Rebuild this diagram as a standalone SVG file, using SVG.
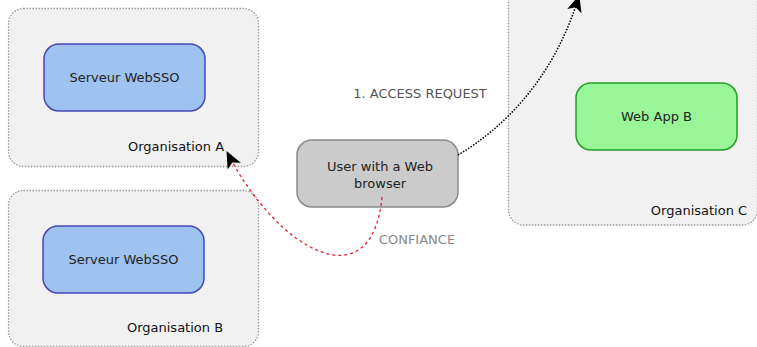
<svg xmlns="http://www.w3.org/2000/svg" width="757" height="347" viewBox="0 0 757 347">
<defs>
<style>
.org{fill:#f1f1f1;stroke:#999;stroke-width:1.3;stroke-dasharray:1.5 1.5}
.sso{fill:#9ec3f0;stroke:#4747b8;stroke-width:1.5}
.app{fill:#98f598;stroke:#22a022;stroke-width:1.5}
.usr{fill:#cbcbcb;stroke:#8a8a8a;stroke-width:1.5}
text{font-family:"DejaVu Sans",sans-serif;font-size:13px;text-anchor:middle}
.ol{fill:#111}
.nl{fill:#222}
</style>
<marker id="ah" viewBox="0 0 16 14" refX="15" refY="7" markerWidth="17" markerHeight="15" markerUnits="userSpaceOnUse" orient="auto">
<path d="M0,0 L16,7 L0,14 L4,7 Z" fill="#000"/>
</marker>
</defs>
<g id="orgA">
<rect class="org" x="8.5" y="8.5" width="250" height="158" rx="15"/>
<text class="ol" x="176" y="151">Organisation A</text>
</g>
<g id="orgB">
<rect class="org" x="8.5" y="190.5" width="250" height="156" rx="15"/>
<text class="ol" x="175" y="332">Organisation B</text>
</g>
<g id="orgC">
<rect class="org" x="508.5" y="-20" width="249" height="245" rx="15"/>
<text class="ol" x="699" y="215">Organisation C</text>
</g>
<g id="ssoA">
<rect class="sso" x="44" y="44" width="161" height="67" rx="15"/>
<text class="nl" x="124.5" y="82">Serveur WebSSO</text>
</g>
<g id="ssoB">
<rect class="sso" x="43" y="226" width="161" height="67" rx="15"/>
<text class="nl" x="123.5" y="264">Serveur WebSSO</text>
</g>
<g id="webapp">
<rect class="app" x="576" y="83" width="161" height="67" rx="15"/>
<text class="nl" x="656.5" y="121">Web App B</text>
</g>
<g id="user">
<rect class="usr" x="297" y="140" width="161" height="67" rx="15"/>
<text class="nl" x="380" y="171">User with a Web</text>
<text class="nl" x="380" y="188">browser</text>
</g>
<g id="connectors">
<path d="M458,155 C500,130 553,82 579,-4" fill="none" stroke="#000" stroke-width="1.5" stroke-dasharray="1.5 1.5" marker-end="url(#ah)"/>
<text x="420" y="98" style="fill:#555">1. ACCESS REQUEST</text>
<path d="M382,197 C372,302 278,252 227,152" fill="none" stroke="#e0202a" stroke-width="1.3" stroke-dasharray="3 3" marker-end="url(#ah)"/>
<text x="417" y="244" style="fill:#888">CONFIANCE</text>
</g>
</svg>
